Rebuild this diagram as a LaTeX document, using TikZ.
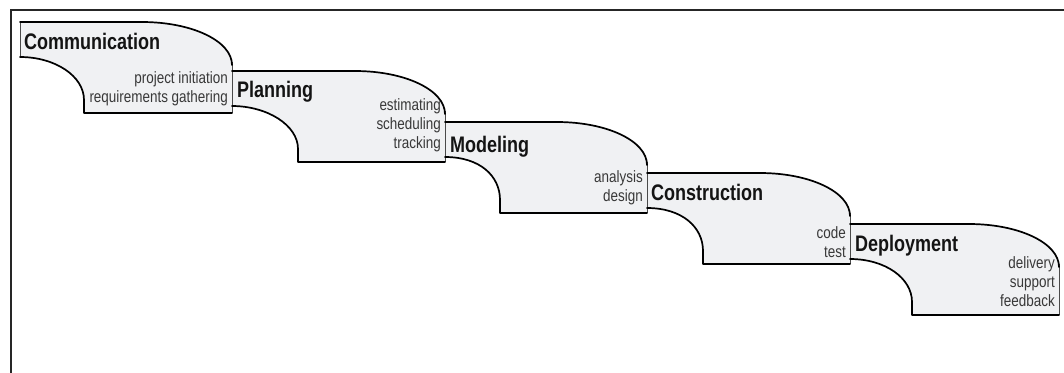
\documentclass[tikz,border=0pt]{standalone}
\usepackage{fontspec}
\setmainfont{Liberation Sans}
\newfontfamily\stagetitlefont[FakeStretch=0.80]{Liberation Sans}
\newfontfamily\stagetaskfont[FakeStretch=0.82]{Liberation Sans}

\definecolor{stagefill}{HTML}{F0F1F3}
\definecolor{stageink}{HTML}{141414}
\definecolor{taskink}{HTML}{383838}
\definecolor{thinedge}{HTML}{4A4A4A}

\tikzset{
  stagetitle/.style={font=\stagetitlefont\bfseries\fontsize{22.5}{25}\selectfont,
    text=stageink, inner sep=0pt, anchor=base west},
  stagetasks/.style={font=\stagetaskfont\fontsize{16.4}{19}\selectfont,
    text=taskink, inner sep=0pt, align=right, anchor=base east},
  edgeheavy/.style={draw=black, line width=1.7pt, line cap=round, line join=round},
  edgelight/.style={draw=thinedge, line width=0.9pt},
  framerule/.style={draw=black!85, line width=1.5pt},
}

% One step of the cascade: #1 left x, #2 top y, #3 right x, #4 x of the lower-left foot
\newcommand\stageshape[4]{%
  \fill[stagefill] (#1,#2) -- (#3-90,#2)
      .. controls (#3-40,#2) and (#3,#2+19) .. (#3,#2+43)
      -- (#3,#2+91) -- (#4,#2+91) -- (#4,#2+78)
      .. controls (#4,#2+54) and (#1+35,#2+35) .. (#1,#2+35) -- cycle;
  \draw[edgelight] (#1,#2) -- (#1,#2+35);
  \draw[edgelight] (#3,#2+40) -- (#3,#2+91);
  \draw[edgeheavy] (#1,#2) -- (#3-90,#2)
      .. controls (#3-40,#2) and (#3,#2+19) .. (#3,#2+43);
  \draw[edgeheavy] (#1,#2+35) .. controls (#1+35,#2+35) and (#4,#2+54) .. (#4,#2+78)
      -- (#4,#2+91) -- (#3,#2+91);
}

\begin{document}
\begin{tikzpicture}[x=1pt, y=-1pt]
  \useasboundingbox (0,0) rectangle (1064,372);

  % outer frame (top and left rules)
  \draw[framerule] (11,380) -- (11,10) -- (1070,10);

  % the five steps
  \stageshape{20}{22}{232}{84}
  \stageshape{232}{71}{445}{298}
  \stageshape{445}{122}{647}{500}
  \stageshape{647}{173}{850}{703}
  \stageshape{850}{224}{1059}{912}

  % titles and tasks (task blocks sit on the baseline of their last line)
  \node[stagetitle] (communication) at (24,49) {Communication};
  \node[stagetasks] (communication-tasks) at (228,102) {project initiation\\requirements gathering};

  \node[stagetitle] (planning) at (237,97) {Planning};
  \node[stagetasks] (planning-tasks) at (441,148) {estimating\\scheduling\\tracking};

  \node[stagetitle] (modeling) at (450,152) {Modeling};
  \node[stagetasks] (modeling-tasks) at (643,201) {analysis\\design};

  \node[stagetitle] (construction) at (651,200) {Construction};
  \node[stagetasks] (construction-tasks) at (846,257) {code\\test};

  \node[stagetitle] (deployment) at (855,251) {Deployment};
  \node[stagetasks] (deployment-tasks) at (1055,306) {delivery\\support\\feedback};
\end{tikzpicture}
\end{document}
